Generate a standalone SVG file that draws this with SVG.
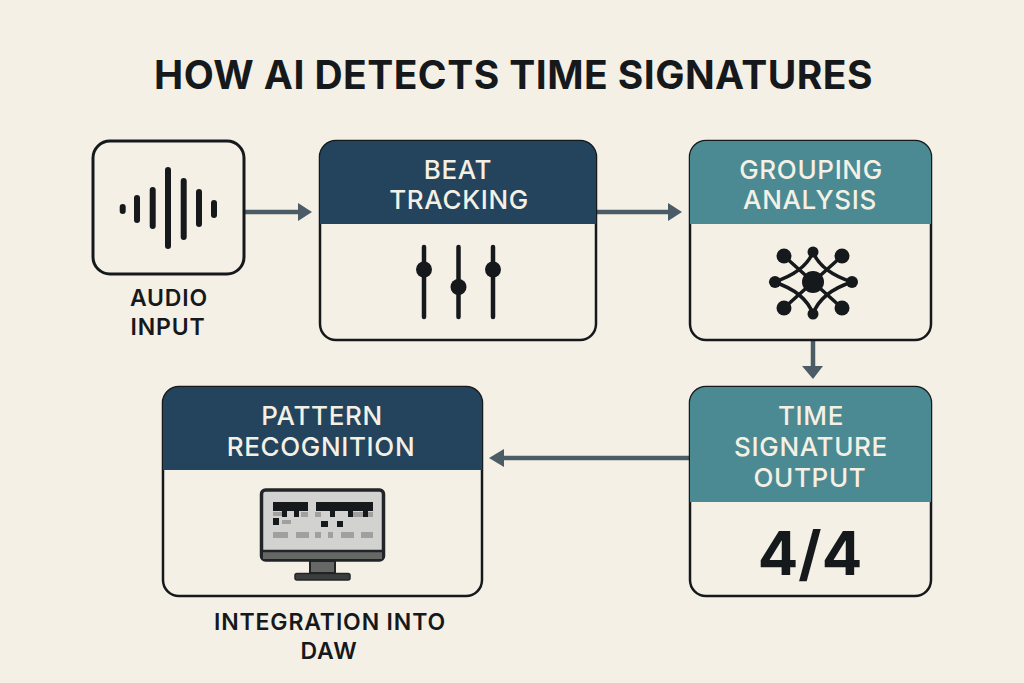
<svg xmlns="http://www.w3.org/2000/svg" width="1024" height="683" viewBox="0 0 1024 683">
<style>
text{font-family:"Inter","Liberation Sans",sans-serif;text-anchor:middle}
.w{fill:#f5f0e5;font-size:26px;font-weight:500;letter-spacing:.65px}
.k{fill:#16191c;font-size:23px;font-weight:600;letter-spacing:.85px}
.box{fill:#f5f0e5;stroke:#16191c;stroke-width:2.500}
.navy{fill:#23445c}.teal{fill:#4b8a92}
.con{stroke:#4b5c66;stroke-width:4.500;fill:none}
.ar{fill:#4b5c66}
.ic{stroke:#16191c;stroke-linecap:round;fill:none}
.d{fill:#16191c}
</style>
<rect width="1024" height="683" fill="#f5f0e5"/>
<text x="513.500" y="89" style="font-size:39px;font-weight:700;letter-spacing:.45px" fill="#16191c">HOW AI DETECTS TIME SIGNATURES</text>
<g id="connectors">
<path class="con" d="M245 212H300"/><path class="ar" d="M298 203L312 212L298 221Z"/>
<path class="con" d="M597 212H670"/><path class="ar" d="M668 203L682 212L668 221Z"/>
<path class="con" d="M813 341V367"/><path class="ar" d="M802 366H823L813 379Z"/>
<path class="con" d="M690 458H502"/><path class="ar" d="M504 449L489 458L504 467Z"/>
</g>
<g id="audio-input">
<rect x="93" y="141" width="151" height="133" rx="17" fill="#f5f0e5" stroke="#16191c" stroke-width="3"/>
<g class="ic" stroke-width="6">
<path d="M122.700 207V211"/><path d="M137 198V220"/><path d="M152.700 190V226"/>
<path d="M168 170V246"/><path d="M183.700 181V237"/><path d="M199 192V224"/><path d="M214 203V215"/>
</g>
<text class="k" x="169" y="306">AUDIO</text><text class="k" x="168" y="335">INPUT</text>
</g>
<g id="beat-tracking">
<rect class="box" x="320" y="141" width="276" height="199" rx="16"/>
<path class="navy" d="M320 224V157a16 16 0 0 1 16-16H580a16 16 0 0 1 16 16V224Z"/>
<text class="w" x="458" y="179">BEAT</text><text class="w" x="459" y="209">TRACKING</text>
<g class="ic" stroke-width="4.500"><path d="M424 247V317"/><path d="M458.500 247V317"/><path d="M493 247V317"/></g>
<circle class="d" cx="424" cy="269.500" r="8"/><circle class="d" cx="458.500" cy="287" r="8"/><circle class="d" cx="493" cy="269.500" r="8"/>
</g>
<g id="grouping-analysis">
<rect class="box" x="690" y="141" width="241" height="199" rx="16"/>
<path class="teal" d="M690 224V157a16 16 0 0 1 16-16H915a16 16 0 0 1 16 16V224Z"/>
<text class="w" x="811" y="179">GROUPING</text><text class="w" x="810" y="209">ANALYSIS</text>
<g stroke="#16191c" stroke-width="3.500" fill="none">
<path d="M784 256L842 308M842 256L784 308"/>
<path d="M813 252Q821 272 852 282Q821 292 813 314Q805 292 774 282Q805 272 813 252Z"/>
</g>
<g class="d"><circle cx="813" cy="282" r="11"/><circle cx="784" cy="256" r="7.500"/><circle cx="813" cy="252" r="5.500"/><circle cx="842" cy="256" r="7.500"/><circle cx="775" cy="282" r="6"/><circle cx="852" cy="282" r="6"/><circle cx="784" cy="308" r="7.500"/><circle cx="813" cy="314" r="5.500"/><circle cx="842" cy="308" r="7.500"/></g>
</g>
<g id="time-signature-output">
<rect class="box" x="690" y="387" width="241" height="209" rx="16"/>
<path class="teal" d="M690 502V403a16 16 0 0 1 16-16H915a16 16 0 0 1 16 16V502Z"/>
<text class="w" x="811" y="425">TIME</text><text class="w" x="811" y="456">SIGNATURE</text><text class="w" x="810" y="487">OUTPUT</text>
<text x="810" y="575" style="font-size:60px;font-weight:700" fill="#16191c">4/4</text>
</g>
<g id="pattern-recognition">
<rect class="box" x="163" y="387" width="319" height="209" rx="16"/>
<path class="navy" d="M163 470V403a16 16 0 0 1 16-16H466a16 16 0 0 1 16 16V470Z"/>
<text class="w" x="322" y="425">PATTERN</text><text class="w" x="321" y="456">RECOGNITION</text>
<rect x="261.500" y="490" width="122" height="70" rx="4" fill="#d2d2d0" stroke="#222527" stroke-width="3.500"/>
<rect x="263" y="552" width="119" height="7" fill="#666866"/><path d="M262 551H383" stroke="#222527" stroke-width="2.500"/>
<rect x="310" y="561" width="25" height="12" fill="#666866" stroke="#222527" stroke-width="2"/>
<rect x="295" y="573.500" width="55" height="6.500" rx="2" fill="#3c3e3e" stroke="#222527" stroke-width="1.500"/>
<g class="d">
<rect x="273" y="502" width="35" height="9"/><rect x="316" y="502" width="57" height="9"/>
<rect x="282" y="511" width="5" height="6"/><rect x="294" y="511" width="5" height="6"/><rect x="330" y="511" width="5" height="6"/><rect x="348" y="511" width="5" height="6"/><rect x="363" y="511" width="5" height="6"/>
<rect x="273" y="518" width="6" height="7"/><rect x="321" y="521" width="7" height="6"/><rect x="337" y="521" width="6" height="6"/>
</g>
<g fill="#a0a09e">
<rect x="273" y="512" width="9" height="4"/><rect x="301" y="512" width="7" height="5"/><rect x="315" y="512" width="6" height="5"/><rect x="353" y="512" width="10" height="5"/><rect x="368" y="512" width="5" height="5"/><rect x="282" y="520" width="9" height="4"/>
<rect x="273" y="532" width="15" height="6"/><rect x="296" y="532" width="13" height="6"/><rect x="315" y="532" width="6" height="6"/><rect x="328" y="532" width="5" height="6"/><rect x="341" y="532" width="13" height="6"/><rect x="361" y="532" width="12" height="6"/>
</g>
<text class="k" x="330" y="630">INTEGRATION INTO</text><text class="k" x="329" y="659">DAW</text>
</g>
</svg>
